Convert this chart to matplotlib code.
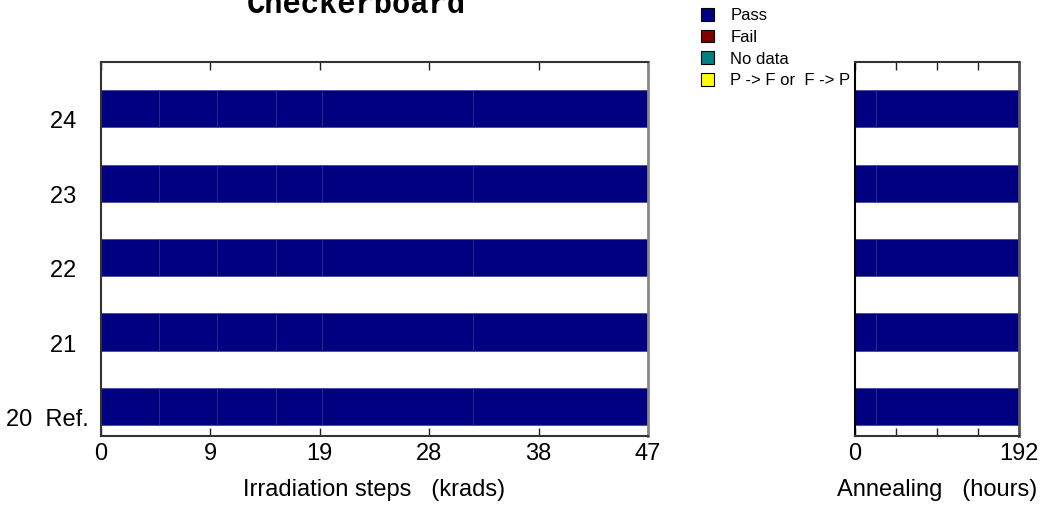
import matplotlib
matplotlib.use("Agg")
import matplotlib.pyplot as plt
from matplotlib.patches import Patch
import numpy as np

plt.rcParams['font.family'] = ['Liberation Sans', 'DejaVu Sans']

# rows (bottom to top) and their labels
row_labels = ['20  Ref.', '21  ', '22  ', '23  ', '24  ']

# cell boundaries along each x axis
irr_steps = [0, 5, 10, 15, 19, 32, 47]     # krads
ann_steps = [0, 24, 192]                   # hours

irr_ticklabels = ['0', '9', '19', '28', '38', '47']
ann_ticklabels = ['0', '', '', '', '192']

# status of each cell, one list per row
irr_status = [
    ['Pass', 'Pass', 'Pass', 'Pass', 'Pass', 'Pass'],
    ['Pass', 'Pass', 'Pass', 'Pass', 'Pass', 'Pass'],
    ['Pass', 'Pass', 'Pass', 'Pass', 'Pass', 'Pass'],
    ['Pass', 'Pass', 'Pass', 'Pass', 'Pass', 'Pass'],
    ['Pass', 'Pass', 'Pass', 'Pass', 'Pass', 'Pass'],
]
ann_status = [
    ['Pass', 'Pass'],
    ['Pass', 'Pass'],
    ['Pass', 'Pass'],
    ['Pass', 'Pass'],
    ['Pass', 'Pass'],
]

legend_labels = ['Pass', 'Fail', 'No data', 'P -> F or  F -> P']
legend_colors = ['#000080', '#800000', '#008080', '#ffff00']
colors = dict(zip(['Pass', 'Fail', 'No data', 'Change'], legend_colors))

W, H = 1053, 508
fig = plt.figure(figsize=(W / 100, H / 100), dpi=100)

ax1 = fig.add_axes([101 / W, 1 - 436 / H, (648 - 101) / W, (436 - 62) / H])
ax2 = fig.add_axes([855 / W, 1 - 436 / H, (1019 - 855) / W, (436 - 62) / H])


def draw_rows(ax, steps, status):
    for i, row in enumerate(status):
        for j, st in enumerate(row):
            ax.barh(i + 0.25, steps[j + 1] - steps[j], left=steps[j], height=0.5,
                    color=colors[st], edgecolor='#2a2a94', linewidth=0.4)
    ax.set_xlim(steps[0], steps[-1])
    ax.set_ylim(-0.149, 4.878)


def style(ax):
    ax.tick_params(axis='x', direction='in', length=6, width=1, top=True,
                   bottom=True, labelsize=17, pad=5, colors='#222222',
                   labelcolor='black')
    ax.tick_params(axis='y', length=0)
    for s in ['left', 'bottom', 'top']:
        ax.spines[s].set_color('#333333')
        ax.spines[s].set_linewidth(1.5)
    ax.spines['right'].set_color('#888888')
    ax.spines['right'].set_linewidth(2)


draw_rows(ax1, irr_steps, irr_status)
draw_rows(ax2, ann_steps, ann_status)
style(ax1)
style(ax2)

ax1.set_xticks(np.linspace(irr_steps[0], irr_steps[-1], len(irr_ticklabels)))
ax1.set_xticklabels(irr_ticklabels)
ax1.set_yticks(np.arange(len(row_labels)) + 0.10)
ax1.set_yticklabels(row_labels, fontsize=17)
ax1.tick_params(axis='y', pad=8.6)
ax1.set_xlabel('Irradiation steps   (krads)', fontsize=17, labelpad=10)

ax2.set_xticks(np.linspace(ann_steps[0], ann_steps[-1], len(ann_ticklabels)))
ax2.set_xticklabels(ann_ticklabels)
ax2.set_yticks([])
ax2.spines['left'].set_color('black')
ax2.spines['right'].set_color('#555555')
ax2.set_xlabel('Annealing   (hours)', fontsize=17, labelpad=10)

fig.text(356 / W, 1 - 13 / H, 'Checkerboard', family='Liberation Mono',
         fontweight='bold', fontsize=22, ha='center', va='baseline')

handles = [Patch(facecolor=c, edgecolor='black', linewidth=0.8) for c in legend_colors]
fig.legend(handles, legend_labels, loc='upper left',
           bbox_to_anchor=(701 / W, 1 - 8 / H), frameon=False, fontsize=12,
           handlelength=0.8, handleheight=0.8, handletextpad=0.95,
           labelspacing=0.39, borderpad=0, borderaxespad=0)

fig.savefig('out.png', dpi=100)
